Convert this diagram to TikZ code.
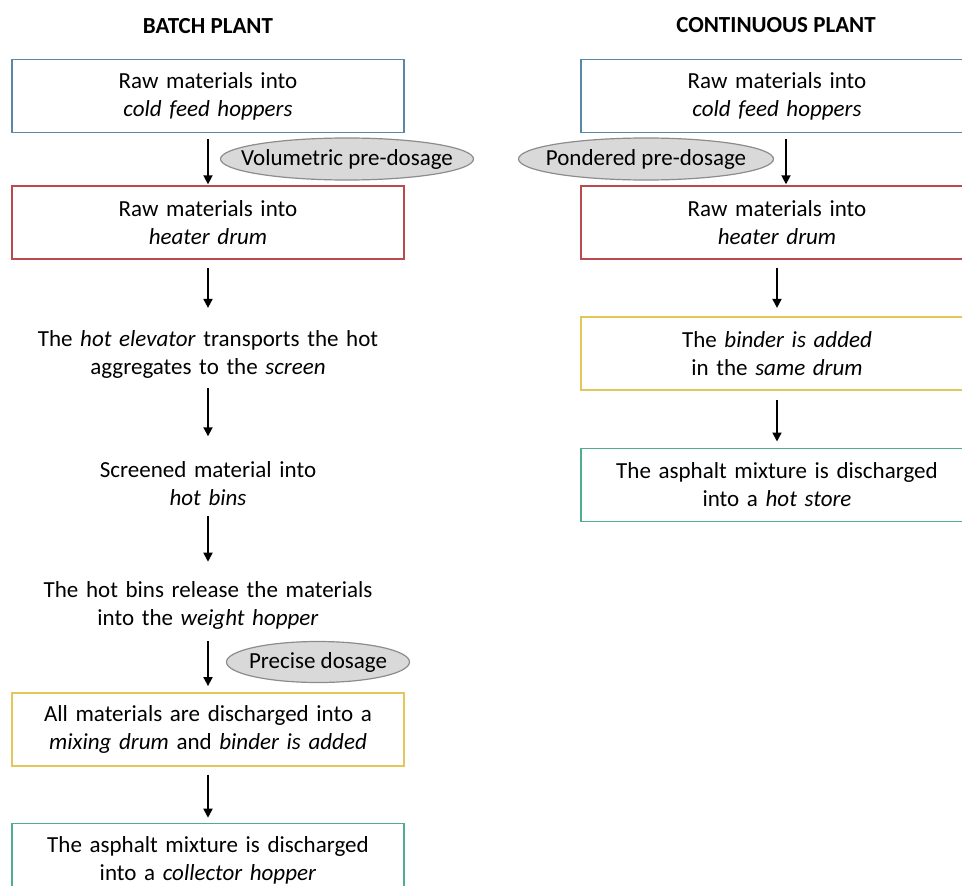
\documentclass[tikz,border=0pt]{standalone}
\usepackage{fontspec}
\setmainfont{Carlito}
\usepackage{tikz}
\usetikzlibrary{arrows.meta, positioning, shapes.geometric}
\definecolor{boxblue}{HTML}{5B87A8}
\definecolor{boxred}{HTML}{BA4A4E}
\definecolor{boxyellow}{HTML}{E3C75A}
\definecolor{boxgreen}{HTML}{4FAF8A}
\definecolor{dosefill}{HTML}{D9D9D9}
\definecolor{doseline}{HTML}{8C8C8C}
\newcommand{\stagefont}{\fontsize{23}{28}\selectfont}
\tikzset{
  stage/.style={draw, line width=1.6pt, minimum width=392pt, minimum height=73pt,
    text width=385pt, align=center, inner sep=0pt, font=\stagefont},
  plain/.style={minimum height=60pt, text width=385pt, align=center, inner sep=0pt, font=\stagefont},
  dose/.style={ellipse, draw=doseline, fill=dosefill, line width=1.2pt,
    inner xsep=-60pt, inner ysep=-15pt, font=\stagefont},
  flow/.style={->, line width=1.8pt},
  title/.style={font=\stagefont\bfseries}
}
\begin{document}
\begin{tikzpicture}[x=1pt, y=1pt, >={Triangle[length=9pt,width=9pt]}]
  \useasboundingbox (0,0) rectangle (962,-886);
  \clip (0,0) rectangle (962,-886);
  % batch plant
  \node[title] (tl) at (208,-26) {BATCH PLANT};
  \node[stage, draw=boxblue] (b1) at (208,-96) {Raw materials into\\ \textit{cold feed hoppers}};
  \node[stage, draw=boxred, below=52pt of b1] (b2) {Raw materials into\\ \textit{heater drum}};
  \node[plain, below=64pt of b2] (t3) {The \textit{hot elevator} transports the hot\\ aggregates to the \textit{screen}};
  \node[plain, below=69pt of t3] (t4) {Screened material into\\ \textit{hot bins}};
  \node[plain, below=62pt of t4] (t5) {The hot bins release the materials\\ into the \textit{weight hopper}};
  \node[stage, draw=boxyellow, below=56pt of t5] (b6) {All materials are discharged into a\\ \textit{mixing drum} and \textit{binder is added}};
  \node[stage, draw=boxgreen, below=56pt of b6] (b7) {The asphalt mixture is discharged\\ into a \textit{collector hopper}};
  \foreach \a/\b/\s/\e in {b1/b2/6/1, b2/t3/8/16, t3/t4/4/17, t4/t5/2/14, t5/b6/5/6, b6/b7/8/5}
    \draw[flow, shorten <=\s pt, shorten >=\e pt] (\a) -- (\b);
  \node[dose, minimum width=253pt, minimum height=42pt] (e1) at (347,-159) {Volumetric pre-dosage};
  \node[dose, minimum width=183pt, minimum height=41pt] (e3) at (318,-662) {Precise dosage};
  % continuous plant
  \node[title] (tr) at (776,-25) {CONTINUOUS PLANT};
  \node[stage, draw=boxblue] (r1) at (777,-96) {Raw materials into\\ \textit{cold feed hoppers}};
  \node[stage, draw=boxred, below=52pt of r1] (r2) {Raw materials into\\ \textit{heater drum}};
  \node[stage, draw=boxyellow, below=56pt of r2] (r3) {The \textit{binder is added}\\ in the \textit{same drum}};
  \node[stage, draw=boxgreen, below=57pt of r3] (r4) {The asphalt mixture is discharged\\ into a \textit{hot store}};
  \draw[flow, shorten <=6pt, shorten >=1pt] ([xshift=9pt]r1.south) -- ([xshift=9pt]r2.north);
  \foreach \a/\b/\s/\e in {r2/r3/8/8, r3/r4/9/6}
    \draw[flow, shorten <=\s pt, shorten >=\e pt] (\a) -- (\b);
  \node[dose, minimum width=255pt, minimum height=42pt] (e2) at (646,-159) {Pondered pre-dosage};
\end{tikzpicture}
\end{document}
